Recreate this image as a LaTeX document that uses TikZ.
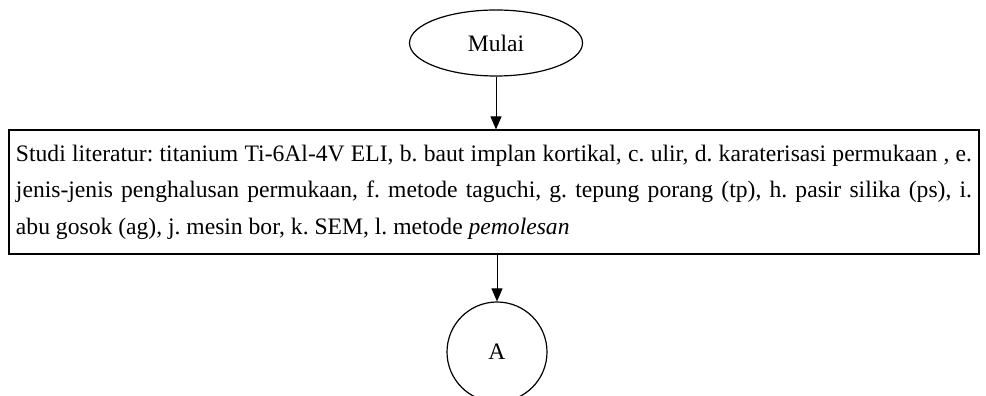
\documentclass[tikz,border=0pt]{standalone}
\usepackage{fontspec}
\setmainfont{Liberation Serif}
\usetikzlibrary{arrows.meta,shapes.geometric}
\begin{document}
\frenchspacing
\begin{tikzpicture}[x=1pt,y=1pt,
  line width=1.2pt,
  conn/.style={line width=1pt,-{Triangle[length=13pt,width=11pt]}},
  txt/.style={font=\fontsize{23.6}{36.5}\selectfont}]
\useasboundingbox (0,0) rectangle (986,396);
\clip (0,0) rectangle (986,396);
\node[draw,ellipse,minimum width=173pt,minimum height=66pt,inner sep=0pt,txt] (mulai) at (496,353) {Mulai};
\node[draw,rectangle,minimum width=970pt,minimum height=124pt,text width=956pt,inner xsep=7pt,inner ysep=0pt,align=justify,txt] (studi) at (494,204)
 {\frenchspacing Studi literatur: titanium Ti-6Al-4V ELI, b. baut implan kortikal, c. ulir, d. karaterisasi permukaan , e.\linebreak
 jenis-jenis penghalusan permukaan, f. metode taguchi, g. tepung porang (tp), h. pasir silika (ps), i.\linebreak
 abu gosok (ag), j. mesin bor, k. SEM, l. metode \textit{pemolesan}};
\node[draw,circle,minimum size=100pt,inner sep=0pt,txt] (A) at (497,44) {A};
\draw[conn] (mulai.south) -- (mulai.south |- studi.north);
\draw[conn] (studi.south -| A.north) -- (A.north);
\end{tikzpicture}
\end{document}
